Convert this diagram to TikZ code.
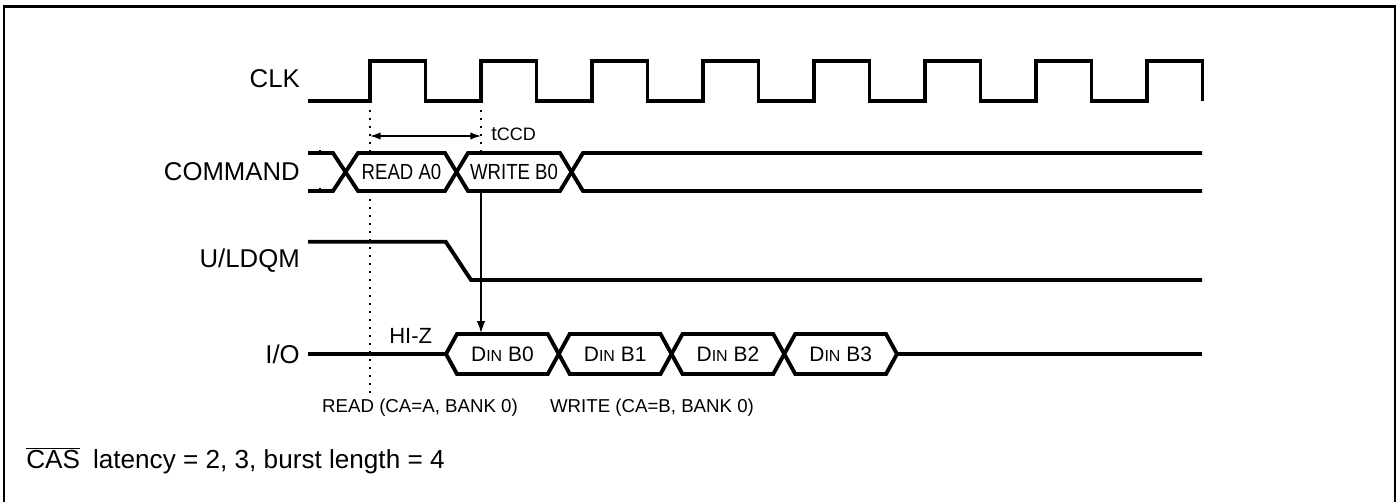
\documentclass[tikz,border=0pt]{standalone}
\usepackage{fontspec}
\usepackage{graphicx}
\setmainfont{Liberation Sans}
\usetikzlibrary{arrows.meta}
\tikzset{
  sig/.style={line width=2.9pt,line join=miter},
  thinline/.style={line width=1.1pt},
  dots/.style={line width=1.5pt,dash pattern=on 1.5pt off 4.5pt},
  siglabel/.style={anchor=east,inner sep=0pt,font=\fontsize{19.3}{22}\selectfont},
  cmdtext/.style={inner sep=0pt,font=\fontsize{16.4}{19}\selectfont},
  dintext/.style={inner sep=0pt,font=\fontsize{15.7}{18}\selectfont},
  note/.style={inner sep=0pt,font=\fontsize{14}{16}\selectfont}
}
\newcommand{\din}[1]{D{\fontsize{12}{14}\selectfont IN} #1}
\begin{document}
\begin{tikzpicture}[x=0.75pt,y=-0.75pt]
      \useasboundingbox (0,0) rectangle (1398,502);
      \draw[line width=1.9pt] (4,506) -- (4,6.5) -- (1395,6.5) -- (1395,506);
      \node[siglabel] (lclk) at (300,78.5) {CLK};
      \node[siglabel] (lcmd) at (300,172) {COMMAND};
      \node[siglabel] (ldqm) at (300,261) {U/LDQM};
      \node[siglabel] (lio) at (300,354) {I/O};
      \draw[sig] (308,101) \foreach \k in {0,...,7} {
        -- ({370+111*\k},101) -- ({370+111*\k},61) -- ({425.5+111*\k},61) -- ({425.5+111*\k},101)};
      \draw[sig] (308,153) -- (333,153) -- (358,191) -- (445,191) -- (468,153) -- (560,153) -- (583,191) -- (1202,191);
      \draw[sig] (308,191) -- (333,191) -- (358,153) -- (445,153) -- (468,191) -- (560,191) -- (583,153) -- (1202,153);
      \draw[line width=0.9pt] (320,150.5) -- (320,155.5) (320,188.5) -- (320,193.5);
      \node[cmdtext] (cmda) at (401.5,172) {\scalebox{0.85}[1]{READ A0}};
      \node[cmdtext] (cmdb) at (514,172) {\scalebox{0.85}[1]{WRITE B0}};
      \draw[sig] (308,241.7) -- (445.7,241.7) -- (471,280) -- (1202,280);
      \draw[sig] (308,354) -- (446,354);
      \foreach \k in {0,...,3} {
        \draw[sig] ({446+112.75*\k},354) -- ({457+112.75*\k},334) -- ({547.75+112.75*\k},334)
          -- ({558.75+112.75*\k},354) -- ({547.75+112.75*\k},374) -- ({457+112.75*\k},374) -- cycle;
        \node[dintext] (din\k) at ({502.4+112.75*\k},354) {\din{B\k}};
      }
      \draw[sig] (897,354) -- (1202,354);
      \node[anchor=west,inner sep=0pt,font=\fontsize{16.5}{19}\selectfont] (hiz) at (389,335.5) {HI-Z};
      \coordinate (rdtop) at (370,110);
      \coordinate (wrtop) at (481,110);
      \draw[dots] (rdtop) -- (370,153) (370,191) -- (370,396);
      \draw[dots] (wrtop) -- (481,153);
      \coordinate (ta) at (370,136);
      \coordinate (tb) at (481,136);
      \draw[thinline,{Latex[length=8pt,width=5.5pt]}-{Latex[length=8pt,width=5.5pt]}] (ta) -- (tb);
      \node[anchor=west,inner sep=0pt,font=\fontsize{15}{17}\selectfont] (tccd) at (491,134.5) {t{\fontsize{13.5}{16}\selectfont CCD}};
      \coordinate (wrbot) at (481,191);
      \coordinate (dinin) at (481,333);
      \draw[thinline,-{Latex[length=9pt,width=6.5pt]}] (wrbot) -- (dinin);
      \node[note] (rdnote) at (420,408) {READ (CA=A, BANK 0)};
      \node[note] (wrnote) at (652,408) {WRITE (CA=B, BANK 0)};
      \node[anchor=west,inner sep=0pt,font=\fontsize{19.6}{22}\selectfont] (cas) at (26,461) {$\overline{\hbox{CAS}}$\hspace{0.5em}latency = 2, 3, burst length = 4};
    \end{tikzpicture}
\end{document}
